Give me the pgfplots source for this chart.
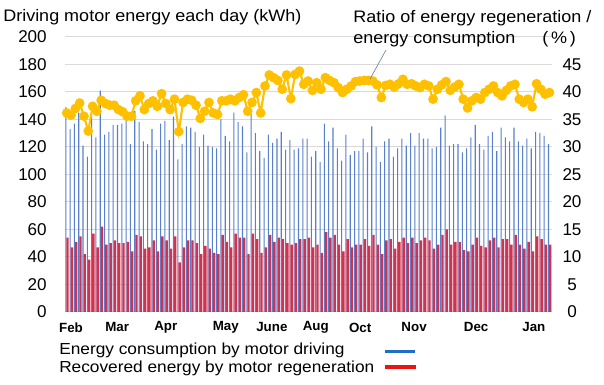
\documentclass[border=0pt]{standalone}
\usepackage{pgfplots}
\pgfplotsset{compat=1.18}
\usepackage{pgfplotstable}
\usepackage{fontspec}
\setmainfont{Liberation Sans}
\newfontfamily\wide{Liberation Sans}[FakeStretch=1.08]
\definecolor{drvblue}{RGB}{88,128,204}
\definecolor{regred}{RGB}{204,52,82}
\definecolor{ratioyel}{RGB}{255,192,0}
\definecolor{gridc}{RGB}{217,217,217}
\definecolor{legblue}{RGB}{30,110,200}
\definecolor{legred}{RGB}{235,20,20}
\definecolor{leader}{RGB}{110,130,180}

\pgfplotstableread{
x drive regen ratio
0 149 54 36.2
1 133 47 35.8
2 137 51 37.0
3 145 55 38.0
4 121 42 35.6
5 113 38 32.9
6 142 57 37.4
7 127 47 36.5
8 161 62 38.5
9 129 49 37.9
10 131 50 37.6
11 136 52 37.6
12 136 50 36.8
13 137 50 36.4
14 140 51 35.6
15 122 44 35.6
16 146 56 38.4
17 138 55 39.3
18 124 46 36.8
19 122 47 37.9
20 133 52 38.4
21 118 44 37.4
22 137 55 39.7
23 139 52 37.9
24 125 46 36.8
25 142 55 38.7
26 111 36 32.8
27 122 47 38.1
28 135 52 38.7
29 134 52 38.5
30 131 50 37.6
31 120 42 35.2
32 129 48 36.5
33 121 46 38.1
34 120 43 36.2
35 119 42 35.9
36 140 56 38.4
37 128 51 38.4
38 124 47 38.7
39 145 57 38.4
40 138 54 39.0
41 135 54 39.5
42 116 42 36.5
43 144 57 38.1
44 130 53 39.9
45 117 43 36.2
46 112 47 41.1
47 129 56 43.1
48 123 51 42.6
49 126 54 42.1
50 131 53 40.5
51 118 50 43.1
52 125 49 38.8
53 118 50 43.2
54 119 53 43.8
55 126 53 41.4
56 126 54 42.0
57 113 47 40.3
58 117 49 41.7
59 109 43 40.5
60 137 58 42.6
61 124 54 42.1
62 134 56 41.7
63 119 49 40.8
64 110 44 39.9
65 129 53 40.5
66 114 47 41.1
67 117 49 41.9
68 117 49 42.0
69 126 53 42.1
70 116 48 42.1
71 135 56 42.0
72 120 49 41.3
73 109 42 39.0
74 124 52 41.2
75 126 53 41.4
76 113 46 40.9
77 119 51 41.5
78 126 54 42.3
79 121 50 41.4
80 130 54 41.5
81 121 50 41.1
82 130 52 40.8
83 126 54 41.4
84 126 52 41.1
85 119 46 38.7
86 120 49 40.5
87 134 56 41.3
88 143 60 41.9
89 121 49 40.3
90 122 51 40.9
91 122 51 41.4
92 116 45 38.7
93 119 44 37.1
94 127 49 38.4
95 136 54 39.0
96 122 48 38.7
97 118 47 39.9
98 128 52 40.5
99 131 54 41.1
100 117 47 39.9
101 134 53 39.3
102 127 53 40.3
103 124 49 41.1
104 134 56 41.4
105 124 49 38.7
106 121 46 38.1
107 126 51 38.7
108 119 44 37.3
109 131 55 41.5
110 130 53 40.5
111 128 49 39.6
112 122 49 39.9
}\data

\begin{document}
\begin{tikzpicture}
\useasboundingbox (-48.75pt,-54.75pt) rectangle (404.25pt,234pt);
\begin{axis}[
  scale only axis, width=365.25pt, height=206.25pt,
  at={(0pt,0pt)}, anchor=south west,
  xmin=-0.4, xmax=112.6, ymin=0, ymax=200,
  axis line style={draw=none}, major tick length=0pt,
  ytick={0,20,...,200}, ymajorgrids,
  major grid style={gridc, line width=0.75pt},
  xtick={1,11.7,23,36.9,47.6,57.8,68.1,80.6,95,108.4},
  xticklabels={Feb,Mar,Apr,May,June,Aug,Oct,Nov,Dec,Jan},
  xticklabel style={font=\bfseries\fontsize{10}{12}\selectfont, inner sep=0pt, anchor=center, yshift=-11.6pt},
  yticklabel style={font=\fontsize{12.8}{15}\selectfont, inner sep=0pt, anchor=east, xshift=-13.5pt},
  /pgf/number format/assume math mode=true,
  legend plot pos=right, legend cell align=left,
  legend style={at={(0,0)}, anchor=north west, xshift=-4.5pt, yshift=-21.5pt,
    draw=none, fill=none, inner sep=0pt, font=\wide\fontsize{12}{14}\selectfont,
    row sep=0pt, column sep=7pt,
    nodes={inner sep=0pt, text height=10.2pt, text depth=3.5pt}},
]
\addplot[ybar, bar width=0.8pt, bar shift=-0.7pt, fill=drvblue, draw=none,
  legend image code/.code={\draw[legblue, line width=2.6pt] (0pt,-1pt) -- (22.5pt,-1pt);}]
  table[x=x,y=drive]{\data};
\addlegendentry{Energy consumption by motor driving}
\addplot[ybar, bar width=1.8pt, bar shift=0.6pt, fill=regred, draw=none,
  legend image code/.code={\draw[legred, line width=2.6pt] (0pt,1pt) -- (23pt,1pt);}]
  table[x=x,y=regen]{\data};
\addlegendentry{Recovered energy by motor regeneration}
\end{axis}
\begin{axis}[
  scale only axis, width=365.25pt, height=206.25pt,
  at={(0pt,0pt)}, anchor=south west,
  xmin=-0.4, xmax=112.6, ymin=0, ymax=50,
  axis x line=none, axis y line*=right,
  axis line style={draw=none}, major tick length=0pt,
  ytick={0,5,...,45},
  yticklabel style={font=\fontsize{12.8}{15}\selectfont, inner sep=0pt, anchor=center, xshift=15pt},
  /pgf/number format/assume math mode=true,
]
\addplot[ratioyel, line width=1.6pt, mark=*, mark size=2.8pt,
  mark options={fill=ratioyel, draw=ratioyel}]
  table[x=x,y=ratio]{\data};
\end{axis}
\begin{scope}[x=0.75pt,y=0.75pt]
\node[anchor=base west, inner sep=0pt, font=\wide\fontsize{12.5}{15}\selectfont] at (-62,290.5) {Driving motor energy each day (kWh)};
\node[anchor=base west, inner sep=0pt, font=\wide\fontsize{12.5}{15}\selectfont] at (288,289.3) {Ratio of energy regeneration /};
\node[anchor=base west, inner sep=0pt, font=\wide\fontsize{12.5}{15}\selectfont] at (288,268) {energy consumption};
\node[anchor=base west, inner sep=0pt, font=\wide\fontsize{12.5}{15}\selectfont] at (477,268) {(\,\%\,)};
\draw[leader, line width=0.5pt] (321,262) -- (305,233);
\end{scope}
\end{tikzpicture}
\end{document}
